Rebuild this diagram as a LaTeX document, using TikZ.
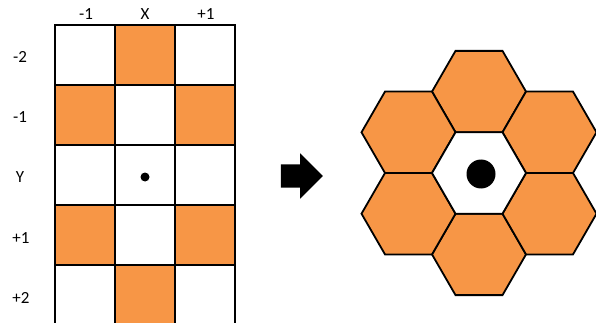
\documentclass[tikz,border=0pt]{standalone}
\usepackage{fontspec}
\setmainfont{Carlito}
\usetikzlibrary{shapes.geometric, shapes.arrows}
\usepackage{xcolor}
\definecolor{morange}{RGB}{247,150,70}

\begin{document}
\begin{tikzpicture}[x=1pt, y=-1pt,
  cell/.style={draw, line width=2pt, minimum size=60pt, inner sep=0pt, fill=white},
  hot/.style={cell, fill=morange},
  lab/.style={font=\fontsize{17}{20}\selectfont},
  hexcell/.style={draw, line width=1.8pt, regular polygon, regular polygon sides=6,
                  minimum size=94pt, inner sep=0pt, fill=morange},
  mdot/.style={circle, fill=black, inner sep=0pt}
]
\useasboundingbox (0,0) rectangle (596,323);
\clip (0,0) rectangle (596,323);

% grid
\node[cell] (a1) at (85,55)  {}; \node[hot]  (a2) at (145,55)  {}; \node[cell] (a3) at (205,55)  {};
\node[hot]  (b1) at (85,115) {}; \node[cell] (b2) at (145,115) {}; \node[hot]  (b3) at (205,115) {};
\node[cell] (c1) at (85,175) {}; \node[cell] (c2) at (145,175) {}; \node[cell] (c3) at (205,175) {};
\node[hot]  (d1) at (85,235) {}; \node[cell] (d2) at (145,235) {}; \node[hot]  (d3) at (205,235) {};
\node[cell] (e1) at (85,295) {}; \node[hot]  (e2) at (145,295) {}; \node[cell] (e3) at (205,295) {};
\node[mdot, minimum size=9pt] (gdot) at (145,177) {};

\node[lab] (xm) at (86,14)  {-1};
\node[lab] (x0) at (145,14) {X};
\node[lab] (xp) at (206,14) {+1};
\node[lab] (ym2) at (20,57)  {-2};
\node[lab] (ym1) at (20,117) {-1};
\node[lab] (y0)  at (20,177) {Y};
\node[lab] (yp1) at (21,238) {+1};
\node[lab] (yp2) at (21,298) {+2};

% arrow
\node[single arrow, fill=black, minimum height=42pt, inner xsep=0pt, inner ysep=11.5pt,
      single arrow head extend=11pt] (arr) at (296,176) {};

% hexagons
\node[hexcell] (htop) at (479,91.6)    {};
\node[hexcell] (hbot) at (479,254.4)   {};
\node[hexcell] (hul)  at (408.5,132.3) {};
\node[hexcell] (hll)  at (408.5,213.7) {};
\node[hexcell] (hur)  at (549.5,132.3) {};
\node[hexcell] (hlr)  at (549.5,213.7) {};
\node[hexcell, fill=white] (hmid) at (479,173) {};
\node[mdot, minimum size=29pt] (hdot) at (481,174) {};
\end{tikzpicture}
\end{document}
